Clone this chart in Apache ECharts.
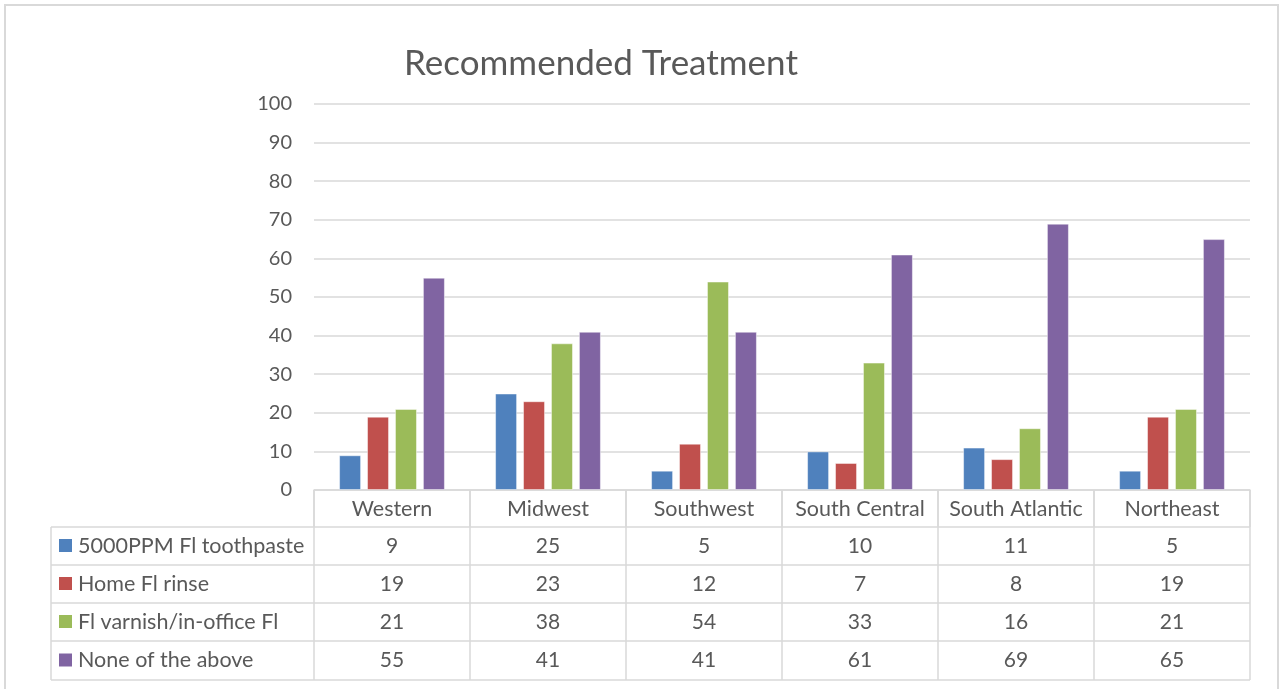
<!DOCTYPE html>
<html><head><meta charset="utf-8">
<script src="https://cdn.jsdelivr.net/npm/echarts@6/dist/echarts.min.js"></script>
<style>html,body{margin:0;padding:0;background:#fff}#c{width:1283px;height:689px}</style>
</head><body><div id="c"></div>
<script>
const categories = ['Western','Midwest','Southwest','South Central','South Atlantic','Northeast'];
const seriesNames = ['5000PPM Fl toothpaste','Home Fl rinse','Fl varnish/in-office Fl','None of the above'];
const toothpaste = [9,25,5,10,11,5];
const rinse = [19,23,12,7,8,19];
const varnish = [21,38,54,33,16,21];
const noneAbove = [55,41,41,61,69,65];
const yTicks = [0,10,20,30,40,50,60,70,80,90,100];
const colors = ['#4f81bd','#c0504d','#9bbb59','#8064a2'];
const allData = [toothpaste, rinse, varnish, noneAbove];

const FONT = 'Lato';
const TXT = '#595959';
const LINE = '#d9d9d9';
const chart = echarts.init(document.getElementById('c'), null, {renderer:'canvas'});
const grid = {left:314, right:33, top:104, bottom:199};
const option = {
  animation:false,
  title:{text:'Recommended Treatment', left:596, top:41, textAlign:'center',
    textStyle:{fontFamily:FONT, fontSize:35, fontWeight:'normal', color:TXT}},
  grid:grid,
  xAxis:{type:'category', data:categories,
    axisLine:{lineStyle:{color:LINE, width:1.5}},
    axisTick:{show:true, length:37, lineStyle:{color:LINE, width:1.5}},
    axisLabel:{interval:0, hideOverlap:false, margin:8, fontFamily:FONT, fontSize:21.5, color:TXT}},
  yAxis:{type:'value', min:0, max:100, interval:10,
    axisLine:{show:false}, axisTick:{show:false},
    splitLine:{lineStyle:{color:LINE, width:1.5}},
    axisLabel:{margin:22, fontFamily:FONT, fontSize:20, color:TXT,
      formatter:v=>yTicks.includes(v)?String(v):''}},
  series: allData.map((d,i)=>({type:'bar', name:seriesNames[i], data:d, barWidth:22, barGap:'27%',
    itemStyle:{color:colors[i], borderColor:'rgba(255,255,255,0.45)', borderWidth:1}}))
};
chart.setOption(option);

// build data table below the axis using the chart's own x scale
function buildTable(){
  const g = [];
  const x0 = 51, xR = 1283 - grid.right;
  const rowTops = [527,565,603,641,680];
  const axisY = 689 - grid.bottom;
  g.push({type:'rect', shape:{x:5,y:5,width:1273,height:700}, style:{fill:null, stroke:LINE, lineWidth:2}, silent:true});
  rowTops.forEach(y=>g.push({type:'line', shape:{x1:x0,y1:y,x2:xR,y2:y}, style:{stroke:LINE,lineWidth:1.5}}));
  g.push({type:'line', shape:{x1:x0,y1:rowTops[0],x2:x0,y2:rowTops[4]}, style:{stroke:LINE,lineWidth:1.5}});
  const half = (chart.convertToPixel({xAxisIndex:0}, 1) - chart.convertToPixel({xAxisIndex:0}, 0))/2;
  categories.forEach((c,ci)=>{
    const cx = chart.convertToPixel({xAxisIndex:0}, ci);
    g.push({type:'line', shape:{x1:cx-half,y1:axisY,x2:cx-half,y2:rowTops[4]}, style:{stroke:LINE,lineWidth:1.5}});
    if(ci===categories.length-1) g.push({type:'line', shape:{x1:cx+half,y1:axisY,x2:cx+half,y2:rowTops[4]}, style:{stroke:LINE,lineWidth:1.5}});
    allData.forEach((d,ri)=>{
      const cy = (rowTops[ri]+rowTops[ri+1])/2;
      g.push({type:'text', x:cx, y:cy, style:{text:String(d[ci]), fill:TXT, font:'21px '+FONT, textAlign:'center', textVerticalAlign:'middle'}});
    });
  });
  seriesNames.forEach((n,ri)=>{
    const cy = (rowTops[ri]+rowTops[ri+1])/2;
    g.push({type:'rect', shape:{x:59,y:cy-7,width:13,height:13}, style:{fill:colors[ri]}});
    g.push({type:'text', x:78, y:cy, style:{text:n, fill:TXT, font:'21.5px '+FONT, textAlign:'left', textVerticalAlign:'middle'}});
  });
  chart.setOption({graphic:g});
}
buildTable();
</script></body></html>
